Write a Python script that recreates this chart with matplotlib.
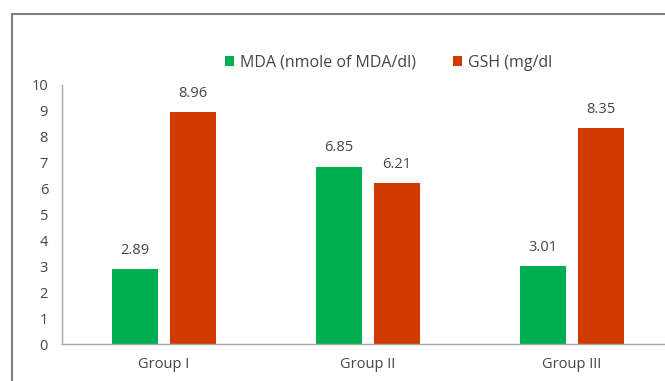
import matplotlib.pyplot as plt
from matplotlib.lines import Line2D
import numpy as np

# values per group
groups = ['Group I', 'Group II', 'Group III']
mda = [2.89, 6.85, 3.01]
gsh = [8.96, 6.21, 8.35]
series_names = ['MDA (nmole of MDA/dl)', 'GSH (mg/dl']

GREEN = '#00B050'
RED = '#D13B00'
TXT = '#454545'

plt.rcParams['font.family'] = ['Open Sans', 'DejaVu Sans']

fig = plt.figure(figsize=(6.65, 3.81), dpi=100)
ax = fig.add_axes([0.0932, 0.097, 0.92, 0.68])

ind = np.arange(len(groups))
width = 0.225
off = 0.142
b1 = ax.bar(ind - off, mda, width, color=GREEN, label=series_names[0])
b2 = ax.bar(ind + off, gsh, width, color=RED, label=series_names[1])

# value labels above the bars
for rects in (b1, b2):
    for r in rects:
        h = r.get_height()
        ax.annotate('%.2f' % h, (r.get_x() + r.get_width() / 2., h),
                    xytext=(0, 8), textcoords='offset points',
                    ha='center', va='bottom', fontsize=10.5, color=TXT)

ax.set_xlim(-0.5, 2.5)
ax.set_ylim(0, 10)
ax.set_yticks(range(0, 11))
ax.set_xticks(ind)
ax.set_xticklabels(groups)
ax.tick_params(length=0, labelsize=10.5, colors=TXT)
ax.tick_params(axis='x', pad=9)
ax.tick_params(axis='y', pad=10)
for s in ('top', 'right'):
    ax.spines[s].set_visible(False)
for s in ('left', 'bottom'):
    ax.spines[s].set_color('#A6A6A6')
    ax.spines[s].set_linewidth(1.0)

leg = fig.legend(handles=[b1, b2], loc='center', bbox_to_anchor=(0.584, 0.835),
                 ncol=2, frameon=False, fontsize=11.5, handlelength=0.6,
                 handleheight=0.6, handletextpad=0.35, columnspacing=2.3)
for t in leg.get_texts():
    t.set_color(TXT)

# chart frame (top and left edges)
fx, fy = 0.018, 0.962
fig.add_artist(Line2D([fx, 1.0], [fy, fy], transform=fig.transFigure,
                      color='#7F7F7F', linewidth=1.5))
fig.add_artist(Line2D([fx, fx], [0.0, fy], transform=fig.transFigure,
                      color='#7F7F7F', linewidth=1.5))

fig.savefig('out.png', dpi=100)
